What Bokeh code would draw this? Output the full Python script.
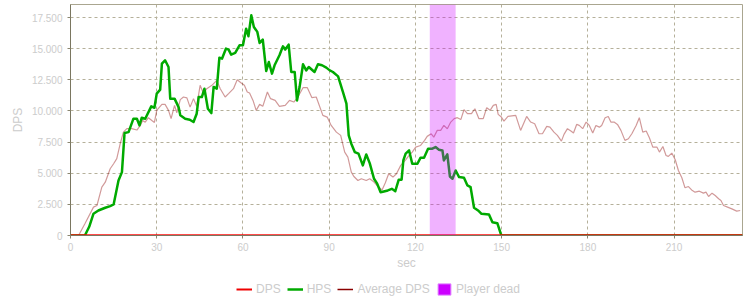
from bokeh.plotting import figure
from bokeh.layouts import column
from bokeh.models import Range1d, FixedTicker, Legend, LegendItem, ColumnDataSource
from bokeh.embed import file_html
from bokeh.resources import INLINE

# ---------------- data ----------------
hps_t = [0, 5.0, 6.5, 8.0, 9.7, 12.1, 13.8, 15.0, 16.7, 17.9, 18.8, 20.2, 21.9, 23.1, 24.0, 24.8, 26.0,
         28.1, 29.2, 30.0, 31.2, 31.8, 32.9, 34.1, 34.7, 36.2, 37.6, 38.2, 39.9, 41.5, 42.8, 43.9,
         44.6, 45.7, 46.6, 47.8, 49.0, 49.8, 50.9, 51.8, 52.7, 54.1, 55.0, 55.9, 57.3, 58.8, 60.0,
         61.1, 61.9, 62.9, 63.8, 65.0, 65.8, 66.9, 68.1, 69.0, 70.1, 71.0, 72.7, 73.9, 74.7, 75.9,
         76.8, 78.0, 78.8, 79.7, 80.9, 82.0, 82.9, 84.9, 86.1, 87.5, 89.0, 90.2, 91.3, 93.1, 94.8,
         96.0, 96.8, 97.7, 98.9, 100.2, 101.7, 102.9, 104.1, 105.6, 106.7, 107.9, 109.0, 110.4,
         111.8, 113.0, 114.2, 115.2, 115.8, 116.6, 117.8, 118.9, 120.7, 121.8, 123.0, 124.4, 125.9,
         127.0, 128.2, 129.4, 129.9, 131.1, 132.0, 132.9, 134.0, 135.2, 136.9, 138.1, 139.2, 140.4,
         141.8, 143.0, 145.6, 146.8, 148.5, 149.7, 150.0, 233.8]
hps_v = [0, 0, 700, 1750, 2010, 2230, 2360, 2490, 4420, 5090, 8225, 8300, 9380, 9380, 8840, 9460, 9380,
         10370, 10260, 11390, 11710, 13800, 14070, 13530, 10990, 10990, 10310, 9650, 9380, 9300, 9110, 9780,
         11120, 11120, 11790, 10180, 9830, 11930, 11790, 14280, 14200, 15010, 14930, 14520, 14660, 15270, 15270,
         16610, 16000, 17680, 16750, 16350, 15460, 15730, 13210, 13930, 13000, 13670, 14470, 15190, 14930, 15330,
         13130, 13130, 10850, 11920, 13750, 13260, 13530, 13130, 13750, 13670, 13480, 13260, 13130, 12780, 11520,
         10590, 8040, 7370, 6700, 6570, 5630, 6510, 5810, 4560, 4160, 3480, 3540, 3620,
         3750, 3560, 4480, 4480, 6030, 6570, 6830, 5760, 5760, 6250, 6250, 6970, 6970,
         7100, 6890, 6830, 6030, 6510, 4740, 4560, 5220, 4690, 4640, 4020, 3880, 2230,
         2010, 1740, 1690, 1070, 990, 140, 0, 0]

avg_t = [0, 2.8, 5.1, 8.0, 9.2, 10.9, 12.1, 13.8, 15.0, 16.1, 17.3, 18.4, 19.6, 21.3, 23.1, 24.3, 25.1,
         26.0, 27.1, 28.3, 29.2, 30.0, 31.8, 32.9, 34.1, 35.0, 36.2, 37.0, 38.2, 39.3, 40.5, 41.6, 42.8,
         43.9, 45.1, 46.3, 47.4, 49.2, 50.9, 52.1, 53.8, 55.0, 56.7, 58.0, 59.4, 60.5, 61.5, 62.3, 63.5,
         64.6, 65.8, 66.9, 68.5, 69.6, 71.2, 72.7, 74.7, 76.2, 77.7, 79.1, 80.9, 82.4, 84.0, 85.5, 87.8,
         89.3, 90.7, 92.5, 94.0, 95.4, 96.5, 97.7, 98.6, 100.0, 101.2, 102.9, 104.1, 105.6, 107.0, 108.4,
         109.5, 110.7, 112.2, 113.4, 114.9, 116.6, 117.8, 118.9, 120.1, 121.8, 123.2, 124.1, 125.5, 126.4,
         127.6, 128.8, 129.9, 131.1, 132.3, 133.5, 134.6, 135.8, 136.9, 138.1, 139.5, 140.7, 142.1, 143.6,
         144.8, 146.0, 147.1, 148.1, 148.8, 149.9, 150.8, 152.2, 154.9, 156.6, 158.7, 160.1, 161.5, 163.0,
         164.2, 165.7, 166.8, 168.2, 169.4, 170.8, 171.7, 172.9, 174.1, 175.0, 176.1, 177.0, 178.2, 179.4,
         180.5, 181.7, 182.8, 184.0, 184.8, 186.0, 187.1, 188.0, 189.1, 190.3, 191.5, 192.9, 194.1, 195.3,
         196.8, 197.9, 199.1, 200.3, 201.4, 202.6, 204.0, 204.9, 206.1, 207.2, 208.0, 209.2, 210.4, 211.5,
         212.7, 213.8, 215.0, 216.1, 217.3, 218.8, 220.2, 221.1, 222.0, 223.2, 224.3, 225.5, 226.3, 227.2,
         228.6, 230.1, 231.8, 233.0]
avg_v = [0, 0, 990, 2280, 2410, 3880, 4280, 5360, 5760, 6170, 7370, 8300, 8580, 8580, 8470, 8840, 9240,
         9100, 9460, 9240, 9080, 10050, 10530, 10530, 10050, 9380, 10450, 9860, 10910, 11120, 11050, 10310, 10990,
         10370, 12060, 11390, 11790, 12060, 12460, 11790, 11120, 11390, 11790, 12510, 12240, 12060, 11520, 11440, 10850,
         10050, 10530, 10370, 11520, 10990, 10850, 10370, 10450, 10850, 10720, 11120, 11870, 11870, 11070, 11120, 9650,
         9510, 8840, 8300, 8040, 6700, 6290, 5090, 4740, 4420, 4560, 4420, 4560, 4290, 3930, 3660,
         4210, 4960, 4690, 4960, 5630, 6080, 6430, 6700, 7100, 7230, 7640, 7960, 8170, 7900,
         8440, 8440, 8840, 8570, 9110, 9380, 9460, 9310, 10100, 9780, 9780, 10180, 9380, 9380,
         10260, 10050, 10450, 10530, 9730, 9510, 9190, 9560, 9650, 8440, 9560, 9110, 8970, 8170,
         8170, 8760, 8700, 8300, 8040, 7580, 8120, 8580, 8390, 8230, 8920, 8840, 8580, 9110,
         8840, 8230, 8840, 8700, 8840, 9460, 9560, 9110, 9110, 8920, 8440, 7640, 7770, 8170,
         8840, 9460, 8300, 8390, 7850, 7100, 7100, 6700, 7150, 6430, 6350, 6620, 6080, 5220,
         4640, 3830, 3930, 3660, 3480, 3560, 3400, 3480, 3130, 3400, 3210, 2950, 2810, 2410,
         2280, 2140, 1960, 2010]

dps_t = [0, 233.8]
dps_v = [0, 0]

dead_start = [125.0]
dead_end = [134.0]

x_ticks = [0, 30, 60, 90, 120, 150, 180, 210]
y_ticks = [0, 2500, 5000, 7500, 10000, 12500, 15000, 17500]
y_labels = ["0", "2.500", "5.000", "7.500", "10.000", "12.500", "15.000", "17.500"]

X_MAX = 233.8
Y_MAX = 18550

FONT = "Liberation Sans"
LABEL_COLOR = "#cccccc"

# ---------------- main figure ----------------
p = figure(width=750, height=272, output_backend="svg", toolbar_location=None,
           x_range=Range1d(0, X_MAX), y_range=Range1d(0, Y_MAX),
           min_border_left=70, min_border_right=8, min_border_top=4, min_border_bottom=37)
p.background_fill_color = "white"
p.border_fill_color = "white"
p.outline_line_color = "#aaa690"
p.outline_line_width = 1

for ax in (p.xaxis[0], p.yaxis[0]):
    ax.axis_line_color = "#7a7660"
    ax.major_tick_line_color = "#8a8670"
    ax.minor_tick_line_color = None
    ax.major_tick_in = 0
    ax.major_tick_out = 3
    ax.major_label_text_color = LABEL_COLOR
    ax.major_label_text_font = FONT
    ax.major_label_text_font_size = "10px"
    ax.axis_label_text_color = LABEL_COLOR
    ax.axis_label_text_font = FONT
    ax.axis_label_text_font_size = "12px"
    ax.axis_label_text_font_style = "normal"

p.xaxis.ticker = FixedTicker(ticks=x_ticks)
p.yaxis.ticker = FixedTicker(ticks=y_ticks)
p.yaxis.major_label_overrides = {t: l for t, l in zip(y_ticks, y_labels)}
p.xaxis.axis_label = "sec"
p.yaxis.axis_label = "DPS"
p.xaxis.major_label_standoff = 4
p.xaxis.axis_label_standoff = 2
p.yaxis.major_label_standoff = 5
p.yaxis.axis_label_standoff = 4

for g in (p.xgrid[0], p.ygrid[0]):
    g.grid_line_color = "#b5b09a"
    g.grid_line_dash = "3 3"
    g.grid_line_width = 1

p.line(avg_t, avg_v, line_color="#8b0000", line_alpha=0.4, line_width=1.2)
p.line(hps_t, hps_v, line_color="#00aa00", line_width=2.5, line_join="round")
p.line(dps_t, dps_v, line_color="#ff0000", line_alpha=0.7, line_width=3)
p.quad(left=dead_start, right=dead_end, bottom=[0] * len(dead_start), top=[Y_MAX] * len(dead_start),
       fill_color="#cc00ff", fill_alpha=0.3, line_color=None)

# ---------------- legend strip ----------------
lg = figure(width=750, height=28, output_backend="svg", toolbar_location=None,
            x_range=Range1d(0, 1), y_range=Range1d(0, 1),
            x_axis_location=None, y_axis_location=None,
            min_border_left=0, min_border_right=0, min_border_top=0, min_border_bottom=0)
lg.grid.visible = False
lg.outline_line_color = None
lg.background_fill_color = "white"
lg.border_fill_color = "white"

# single off-screen point per renderer so that legend glyphs are drawn
src = ColumnDataSource(dict(x=[-5], y=[-5], l=[-6], r=[-5], b=[-6], t=[-5]))
r_dps = lg.line("x", "y", source=src, line_color="#ee0000", line_width=2)
r_hps = lg.line("x", "y", source=src, line_color="#00aa00", line_width=2.5)
r_avg = lg.line("x", "y", source=src, line_color="#8b0000", line_width=1.5)
r_dead = lg.quad(left="l", right="r", bottom="b", top="t", source=src,
                 fill_color="#cc00ff", line_color="#e080ff", line_width=1)

legend = Legend(items=[LegendItem(label="DPS", renderers=[r_dps]),
                       LegendItem(label="HPS", renderers=[r_hps]),
                       LegendItem(label="Average DPS", renderers=[r_avg]),
                       LegendItem(label="Player dead", renderers=[r_dead])],
                orientation="horizontal", location=(166, 4),
                glyph_width=16, glyph_height=14, label_standoff=4, spacing=6,
                padding=3, margin=0, border_line_color=None, background_fill_alpha=0,
                label_text_font=FONT, label_text_font_size="12px", label_text_color=LABEL_COLOR,
                label_height=14)
lg.add_layout(legend, "center")

layout = column(p, lg, spacing=0)
open("out.html", "w").write(file_html(layout, INLINE))
